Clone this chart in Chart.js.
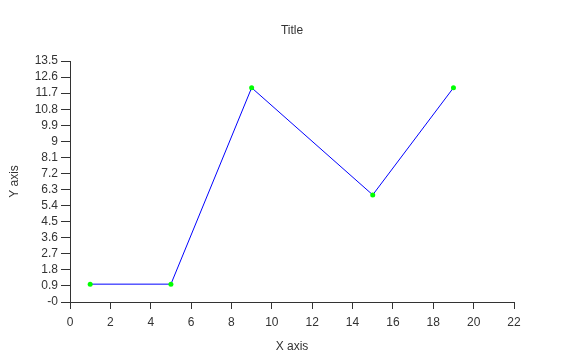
<!DOCTYPE html>
<html>
<head>
<meta charset="utf-8">
<script src="https://cdn.jsdelivr.net/npm/chart.js@4/dist/chart.umd.min.js"></script>
<style>
  body { margin: 0; background: #fff; }
  canvas { display: block; }
</style>
</head>
<body>
<canvas id="chart" width="584" height="362"></canvas>
<script>
// data
const xValues = [1, 5, 9, 15, 19];
const yValues = [1, 1, 12, 6, 12];
const xTicks = { min: 0, max: 22, step: 2 };
const yTicks = { min: 0, max: 13.5, step: 0.9 };

const textColor = "#333";
const fontFamily = "'Liberation Sans', Arial, sans-serif";

const points = xValues.map((x, i) => ({ x: x, y: yValues[i] }));

new Chart(document.getElementById("chart").getContext("2d"), {
  type: "line",
  data: {
    datasets: [{
      data: points,
      borderColor: "#0000ff",
      borderWidth: 1,
      backgroundColor: "#00ff00",
      pointBackgroundColor: "#00ff00",
      pointBorderColor: "#00ff00",
      pointBorderWidth: 0,
      pointRadius: 2.5,
      tension: 0,
      fill: false,
    }]
  },
  options: {
    responsive: false,
    animation: false,
    layout: { padding: 0 },
    plugins: {
      legend: { display: false },
      tooltip: { enabled: false },
      title: {
        display: true,
        text: "Title",
        color: textColor,
        font: { family: fontFamily, size: 12, weight: "normal" },
        padding: { top: 23, bottom: 23.6 },
      }
    },
    scales: {
      x: {
        type: "linear",
        min: xTicks.min,
        max: xTicks.max,
        afterFit: s => { s.height = 60; },
        border: { display: true, color: textColor, width: 1 },
        grid: { drawOnChartArea: false, drawTicks: true, tickLength: 7, color: textColor },
        ticks: {
          stepSize: xTicks.step,
          autoSkip: false,
          color: textColor,
          padding: 6,
          maxRotation: 0,
          font: { family: fontFamily, size: 12 },
        },
        title: {
          display: true,
          text: "X axis",
          color: textColor,
          font: { family: fontFamily, size: 12 },
          padding: { top: 0, bottom: 8 },
        }
      },
      y: {
        min: yTicks.min,
        max: yTicks.max,
        afterFit: s => { s.width = 70; },
        border: { display: true, color: textColor, width: 1 },
        grid: { drawOnChartArea: false, drawTicks: true, tickLength: 9, color: textColor },
        ticks: {
          stepSize: yTicks.step,
          autoSkip: false,
          color: textColor,
          padding: 3,
          font: { family: fontFamily, size: 12 },
          callback: v => {
            const r = Math.round(v * 10) / 10;
            return r === 0 ? "-0" : String(r);
          }
        },
        title: {
          display: true,
          text: "Y axis",
          color: textColor,
          font: { family: fontFamily, size: 12 },
          padding: { top: 7, bottom: 0 },
        }
      },
      // empty right-hand spacer so the title stays centred on the canvas
      spacer: {
        position: "right",
        min: yTicks.min,
        max: yTicks.max,
        afterFit: s => { s.width = 70; },
        border: { display: false },
        grid: { display: false },
        ticks: { display: false },
      }
    }
  }
});
</script>
</body>
</html>
